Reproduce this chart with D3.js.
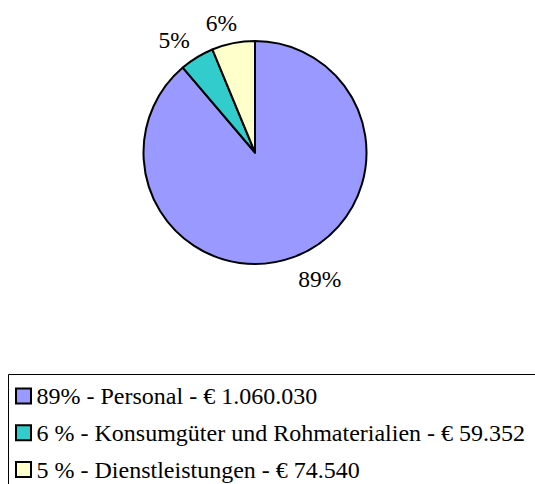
<!DOCTYPE html>
<html><head><meta charset="utf-8">
<script src="https://cdn.jsdelivr.net/npm/d3@7"></script>
<style>html,body{margin:0;padding:0;background:#fff;overflow:hidden}</style>
</head><body>
<script>
const categories = ["Personal", "Konsumgüter und Rohmaterialien", "Dienstleistungen"];
const values = [1060030, 59352, 74540];
const sliceLabels = ["89%", "5%", "6%"];
const legendLabels = [
  "89% - Personal - € 1.060.030",
  "6 % - Konsumgüter und Rohmaterialien - € 59.352",
  "5 % - Dienstleistungen - € 74.540"
];
const colors = ["#9999FF", "#33CCCC", "#FFFFCC"];

const W = 535, H = 484;
const FONT = '"Liberation Serif", "Times New Roman", serif';
const fs = 23.5, lfs = 24;
const svg = d3.select("body").append("svg").attr("width", W).attr("height", H);

const cx = 255, cy = 152.5, r = 111.5;
const pie = d3.pie().sort(null).value(d => d)(values);
const arc = d3.arc().innerRadius(0).outerRadius(r);
const g = svg.append("g").attr("transform", `translate(${cx},${cy})`);
g.selectAll("path").data(pie).join("path")
  .attr("d", arc)
  .attr("fill", (d, i) => colors[i])
  .attr("stroke", "#000").attr("stroke-width", 2).attr("stroke-linejoin", "round");

const R = 125, lh = 20;
g.selectAll("text.lbl").data(pie).join("text").attr("class", "lbl")
  .text((d, i) => sliceLabels[i])
  .style("font-family", FONT).style("font-size", fs + "px").attr("fill", "#000")
  .attr("text-anchor", "middle").attr("dominant-baseline", "central")
  .each(function(d) {
    const a = (d.startAngle + d.endAngle) / 2;
    const w = this.getComputedTextLength();
    const s = Math.max(-1, Math.min(1, Math.sin(a) * 3));
    const x = R * Math.sin(a) + (w / 2) * s;
    const y = -R * Math.cos(a) - (lh / 2) * Math.cos(a) * (Math.cos(a) > 0 ? 0.7 : 1);
    d3.select(this).attr("x", x).attr("y", y);
  });

// Legend
const lx = 8.5, ly = 374.5;
svg.append("path")
  .attr("d", `M${W + 5},${ly}H${lx}V${H + 5}`)
  .attr("fill", "none").attr("stroke", "#000").attr("stroke-width", 1);

const rowY = d3.scalePoint().domain(d3.range(categories.length)).range([396, 469.5]);
const lg = svg.append("g");
const rows = lg.selectAll("g").data(categories).join("g")
  .attr("transform", (d, i) => `translate(0,${rowY(i)})`);
rows.append("rect")
  .attr("x", 16).attr("y", -7.5).attr("width", 15).attr("height", 15)
  .attr("fill", (d, i) => colors[i]).attr("stroke", "#000").attr("stroke-width", 2);
rows.append("text")
  .attr("x", 36.5).attr("y", 8)
  .style("font-family", FONT).style("font-size", lfs + "px").attr("fill", "#000")
  .text((d, i) => legendLabels[i]);
</script>
</body></html>
